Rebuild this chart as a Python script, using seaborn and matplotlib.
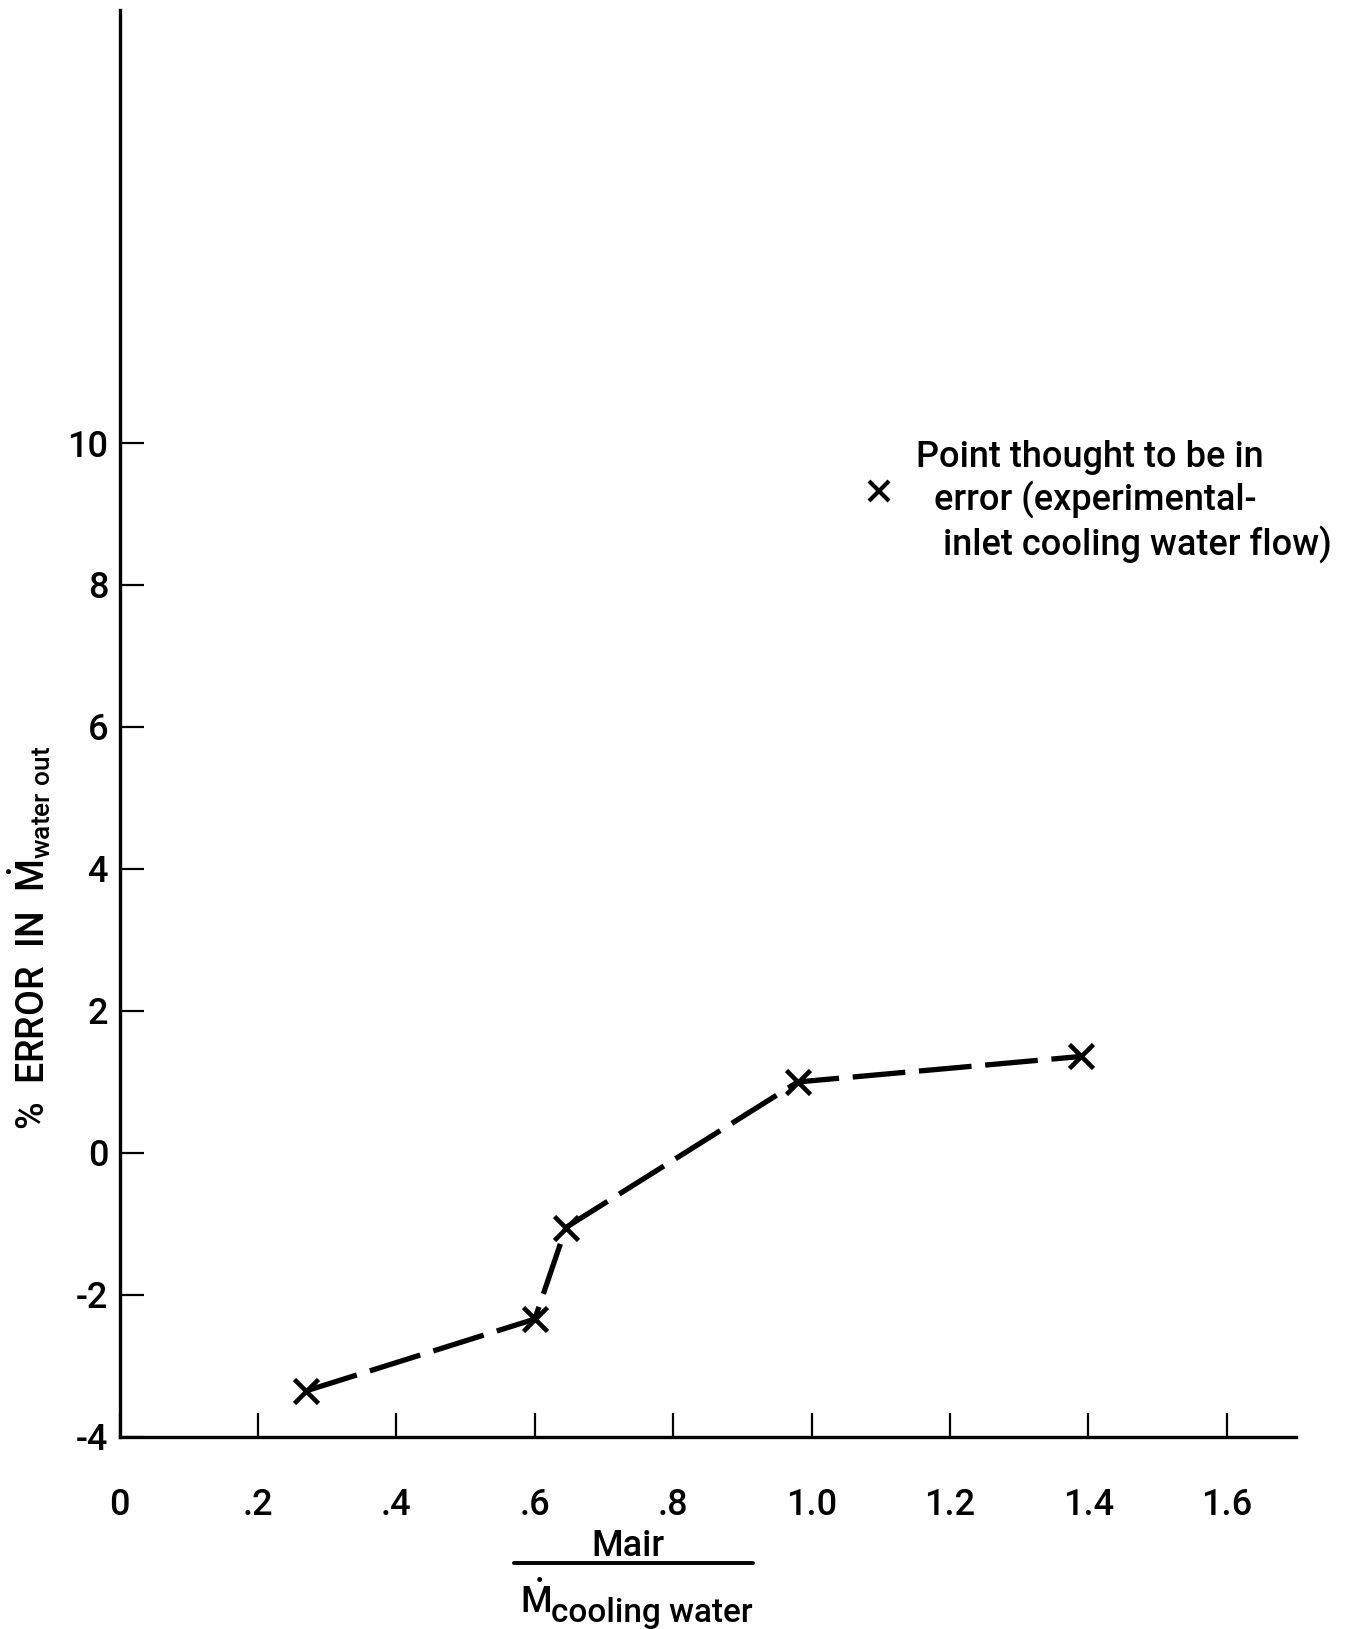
import matplotlib
matplotlib.use("Agg")
import numpy as np
import matplotlib.pyplot as plt
import seaborn as sns
import pandas as pd
from matplotlib.lines import Line2D
from matplotlib.legend_handler import HandlerLine2D

# ---- data ----
ratio = [0.27, 0.60, 0.645, 0.98, 1.39]
error_pct = [-3.35, -2.34, -1.05, 1.0, 1.36]
x_ticks = [0, 0.2, 0.4, 0.6, 0.8, 1.0, 1.2, 1.4, 1.6]
x_tick_labels = ["0", ".2", ".4", ".6", ".8", "1.0", "1.2", "1.4", "1.6"]
y_ticks = [-4, -2, 0, 2, 4, 6, 8, 10]
y_tick_labels = ["-4", "-2", "0", "2", "4", "6", "8", "10"]
legend_label = "Point thought to be in\n  error (experimental-\n   inlet cooling water flow)"

sns.set_theme(style="ticks")
FONT = ["Roboto", "DejaVu Sans"]
plt.rcParams["font.family"] = FONT
plt.rcParams["font.weight"] = "medium"
plt.rcParams["mathtext.fontset"] = "custom"
plt.rcParams["mathtext.rm"] = "Roboto:medium"
plt.rcParams["mathtext.it"] = "Roboto:medium"
plt.rcParams["mathtext.bf"] = "Roboto:bold"
for k in ("text.color", "axes.labelcolor", "xtick.color", "ytick.color",
          "axes.edgecolor"):
    plt.rcParams[k] = "black"


class RaisedHandler(HandlerLine2D):
    """Legend marker raised so it sits between the first two text lines."""
    def create_artists(self, legend, orig_handle, xdescent, ydescent,
                       width, height, fontsize, trans):
        arts = super().create_artists(legend, orig_handle, xdescent, ydescent,
                                      width, height, fontsize, trans)
        for a in arts:
            a.set_ydata(np.asarray(a.get_ydata(), dtype=float) + 0.32 * fontsize)
        return arts


fig = plt.figure(figsize=(13.51, 16.29), dpi=100)
ax = fig.add_axes([0.0885, 0.1179, 0.8708, 0.876])

df = pd.DataFrame({"ratio": ratio, "err": error_pct})
sns.lineplot(data=df, x="ratio", y="err", ax=ax, color="black", lw=3.8,
             linestyle=(0, (10, 2.6)), marker="x", markersize=17,
             markeredgewidth=3.3, markeredgecolor="black",
             estimator=None, sort=False)

ax.set_xlim(0, 1.70)
ax.set_ylim(-4, 16.1)
ax.set_xticks(x_ticks)
ax.set_xticklabels(x_tick_labels, fontweight="medium")
ax.set_yticks(y_ticks)
ax.set_yticklabels(y_tick_labels, fontweight="medium")
sns.despine(ax=ax)
for s in ("left", "bottom"):
    ax.spines[s].set_linewidth(2.4)
    ax.spines[s].set_color("black")
ax.tick_params(axis="both", direction="in", length=17, width=1.6,
               colors="black", labelsize=26)
ax.tick_params(axis="x", pad=37)
ax.tick_params(axis="y", pad=8)
ax.set_xlabel("")
ax.set_ylabel(r"%  ERROR  IN  $\dot{M}_{\mathrm{water\ out}}$", fontsize=27,
              fontweight="medium", color="black")
ax.yaxis.set_label_coords(-0.057, 0.350)

# legend
handle = Line2D([], [], color="black", linestyle="none", marker="x",
                markersize=15, markeredgewidth=3)
leg = fig.legend([handle], [legend_label], loc="upper left",
                 bbox_to_anchor=(0.639, 0.730), frameon=False, fontsize=26,
                 handlelength=0.85, handletextpad=0.6,
                 borderpad=0, borderaxespad=0,
                 handler_map={Line2D: RaisedHandler()})
for t in leg.get_texts():
    t.set_linespacing(1.22)
    t.set_color("black")

# x-axis label as a fraction
fig.text(0.465, 0.0505, "Mair", ha="center", va="center", fontsize=26)
fig.add_artist(Line2D([0.3805, 0.5574], [0.0405, 0.0405],
                      transform=fig.transFigure, color="black", lw=2.8))
fig.text(0.385, 0.0098, r"$\dot{M}$", ha="left", va="baseline", fontsize=26)
fig.text(0.408, 0.0045, "cooling water", ha="left", va="baseline",
         fontsize=24)

fig.savefig("out.png", dpi=100, facecolor="white")
